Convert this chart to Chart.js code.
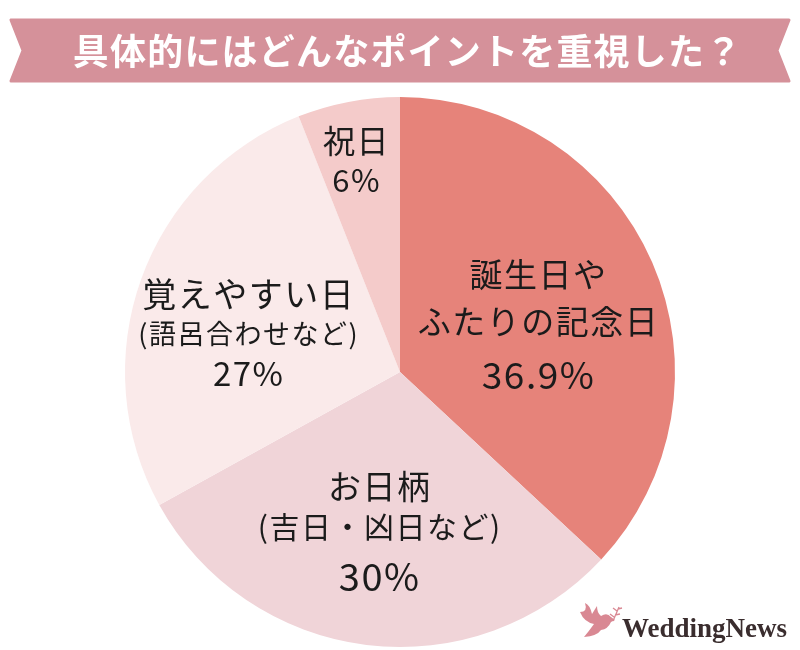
<!DOCTYPE html>
<html>
<head>
<meta charset="utf-8">
<script src="https://cdn.jsdelivr.net/npm/chart.js@4"></script>
<style>
html,body{margin:0;padding:0;background:#fff;}
#wrap{width:800px;height:650px;position:relative;}
</style>
</head>
<body>
<div id="wrap"><canvas id="c" width="800" height="650"></canvas></div>
<script>
const titleText = "具体的にはどんなポイントを重視した？";
const categories = [
  ["誕生日や", "ふたりの記念日"],
  ["お日柄", "(吉日・凶日など)"],
  ["覚えやすい日", "(語呂合わせなど)"],
  ["祝日"]
];
const values = [36.9, 30, 27, 6];
const valueLabels = ["36.9%", "30%", "27%", "6%"];
const colors = ["#E6837A", "#F0D4D8", "#FAEAEA", "#F4CBCA"];

const FONT = '"Noto Sans CJK JP", "Noto Sans", sans-serif';

// label layout per slice: radius fraction, angle shift, font sizes, line gaps
const labelLayout = [
  {rf: 0.53, da: 4.5, sizes: [33, 33, 37], gaps: [0, 47, 53]},
  {rf: 0.585, da: 0.5, sizes: [33, 30, 38], gaps: [0, 40, 50]},
  {rf: 0.57, da: -5.6, sizes: [34, 27, 33], gaps: [0, 40, 40]},
  {rf: 0.785, da: -1, sizes: [32, 31], gaps: [0, 40]}
];

const bannerPlugin = {
  id: 'banner',
  beforeDraw(chart) {
    const ctx = chart.ctx;
    ctx.save();
    ctx.fillStyle = '#fff';
    ctx.fillRect(0, 0, chart.width, chart.height);
    const x0 = 9, x1 = 791, y0 = 20, y1 = 81, n = 14, ym = (y0 + y1) / 2;
    ctx.beginPath();
    ctx.moveTo(x0 + 2, y0);
    ctx.lineTo(x1 - 2, y0);
    ctx.lineTo(x1 - n, ym);
    ctx.lineTo(x1 - 2, y1);
    ctx.lineTo(x0 + 2, y1);
    ctx.lineTo(x0 + n, ym);
    ctx.closePath();
    ctx.fillStyle = '#D5919A';
    ctx.lineJoin = 'round';
    ctx.strokeStyle = '#D5919A';
    ctx.lineWidth = 3;
    ctx.fill();
    ctx.stroke();
    ctx.fillStyle = '#FFFFFF';
    ctx.font = 'bold 36px ' + FONT;
    ctx.textAlign = 'left';
    ctx.textBaseline = 'middle';
    const chars = Array.from(titleText);
    const spacing = 1.2;
    let total = 0;
    chars.forEach(ch => total += ctx.measureText(ch).width + spacing);
    total -= spacing;
    let x = 407 - total / 2;
    chars.forEach(ch => {
      ctx.fillText(ch, x, 51);
      x += ctx.measureText(ch).width + spacing;
    });
    ctx.restore();
  },
  afterDraw(chart) {
    const ctx = chart.ctx;
    const meta = chart.getDatasetMeta(0);
    ctx.save();
    ctx.fillStyle = '#1b1b1b';
    ctx.textBaseline = 'middle';
    meta.data.forEach((arc, i) => {
      const L = labelLayout[i];
      const mid = (arc.startAngle + arc.endAngle) / 2 + L.da * Math.PI / 180;
      const r = arc.outerRadius * L.rf;
      const cx = arc.x + Math.cos(mid) * r;
      const cy = arc.y + Math.sin(mid) * r;
      const lines = categories[i].concat([valueLabels[i]]);
      let offs = [];
      let acc = 0;
      L.gaps.forEach(g => { acc += g; offs.push(acc); });
      const shift = acc / 2;
      lines.forEach((t, k) => {
        ctx.font = L.sizes[k] + 'px ' + FONT;
        const chars = Array.from(t);
        const sp = 1.5;
        let tw = 0;
        chars.forEach(ch => tw += ctx.measureText(ch).width + sp);
        tw -= sp;
        let xx = cx - tw / 2;
        ctx.textAlign = 'left';
        chars.forEach(ch => {
          ctx.fillText(ch, xx, cy - shift + offs[k]);
          xx += ctx.measureText(ch).width + sp;
        });
      });
    });

    // logo: dove
    ctx.fillStyle = '#D98893';
    ctx.beginPath();
    ctx.moveTo(580, 612);
    ctx.quadraticCurveTo(584, 622, 594, 624);
    ctx.quadraticCurveTo(589, 631, 584, 637);
    ctx.quadraticCurveTo(597, 636, 601, 630);
    ctx.quadraticCurveTo(608, 629, 611, 622);
    ctx.lineTo(615, 620);
    ctx.lineTo(611, 617);
    ctx.quadraticCurveTo(607, 612, 601, 616);
    ctx.quadraticCurveTo(597, 613, 597, 606);
    ctx.lineTo(592, 614);
    ctx.quadraticCurveTo(590, 605, 585, 603);
    ctx.quadraticCurveTo(588, 612, 580, 612);
    ctx.closePath();
    ctx.fill();
    ctx.strokeStyle = '#D98893';
    ctx.lineWidth = 1.3;
    ctx.beginPath();
    ctx.moveTo(613, 621);
    ctx.lineTo(619, 607);
    ctx.moveTo(614, 617); ctx.lineTo(610, 614);
    ctx.moveTo(615, 615); ctx.lineTo(620, 614);
    ctx.moveTo(617, 611); ctx.lineTo(613, 608);
    ctx.moveTo(618, 609); ctx.lineTo(622, 608);
    ctx.stroke();

    ctx.fillStyle = '#3A2D2E';
    ctx.font = 'bold 27px "Liberation Serif", "DejaVu Serif", serif';
    ctx.textAlign = 'left';
    ctx.textBaseline = 'alphabetic';
    ctx.fillText('WeddingNews', 622, 637);
    ctx.restore();
  }
};

new Chart(document.getElementById('c'), {
  type: 'pie',
  data: {
    labels: categories.map(c => c.join('')),
    datasets: [{
      data: values,
      backgroundColor: colors,
      borderWidth: 0
    }]
  },
  options: {
    responsive: false,
    animation: false,
    layout: {padding: {top: 97, bottom: 3, left: 125, right: 125}},
    plugins: {
      legend: {display: false},
      tooltip: {enabled: false},
      title: {display: false}
    }
  },
  plugins: [bannerPlugin]
});
</script>
</body>
</html>
